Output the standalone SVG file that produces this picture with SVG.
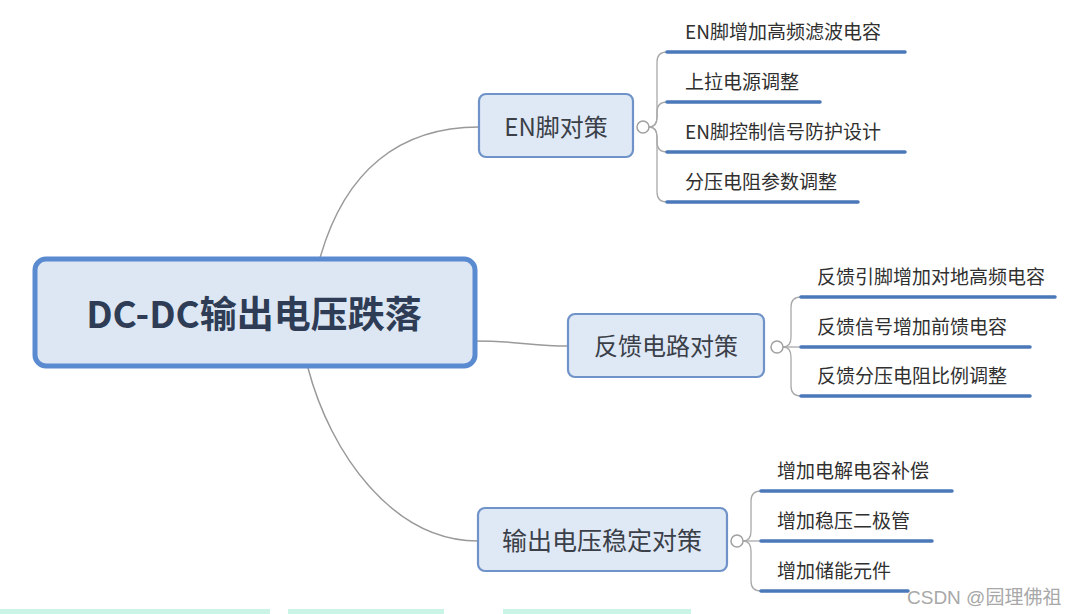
<svg xmlns="http://www.w3.org/2000/svg" width="1072" height="614" viewBox="0 0 1072 614">
<style>
  .bg{fill:#ffffff}
  .conn{fill:none;stroke:#9a9a9a;stroke-width:1.5}
  .sub{fill:none;stroke:#a8a8a8;stroke-width:1.3}
  .uline{stroke:#4a78b8;stroke-width:3.5;stroke-linecap:round}
  .node{fill:#dfe8f5;stroke:#6f93c8;stroke-width:2.2}
  .root{fill:#dde7f4;stroke:#5a8ad0;stroke-width:5}
  .ntext{font-family:"Noto Sans CJK SC","Noto Sans",sans-serif;font-size:24px;fill:#3a3f48;text-anchor:middle}
  .rtext{font-family:"Noto Sans CJK SC","Noto Sans",sans-serif;font-size:37px;font-weight:bold;fill:#2e3d55;text-anchor:middle}
  .leaf{font-family:"Noto Sans CJK SC","Noto Sans",sans-serif;font-size:19px;fill:#303030}
  .knob{fill:#ffffff;stroke:#a0a0a0;stroke-width:1.5}
  .wm{font-family:"Liberation Sans","Noto Sans CJK SC",sans-serif;font-size:19px;fill:#a8a8a8}
</style>
<rect class="bg" x="0" y="0" width="1072" height="614"/>

<g id="connectors">
  <path class="conn" d="M320,258 C345,170 400,127 479,127"/>
  <path class="conn" d="M474,341 C520,341 530,346 568,346"/>
  <path class="conn" d="M308,368 C330,452 392,541 478,541"/>
  <path class="sub" d="M649,127 Q657,127 657,117 L657,62 Q657,52 667,52"/>
  <path class="sub" d="M649,127 Q657,127 657,117 L657,112 Q657,102 667,102"/>
  <path class="sub" d="M649,127 Q657,127 657,137 L657,142 Q657,152 667,152"/>
  <path class="sub" d="M649,127 Q657,127 657,137 L657,192 Q657,202 667,202"/>
  <path class="sub" d="M783,347 Q791,347 791,337 L791,307 Q791,297 801,297"/>
  <path class="sub" d="M783,347 L801,347"/>
  <path class="sub" d="M783,347 Q791,347 791,357 L791,386 Q791,396 801,396"/>
  <path class="sub" d="M743,541 Q751,541 751,531 L751,501 Q751,491 761,491"/>
  <path class="sub" d="M743,541 L761,541"/>
  <path class="sub" d="M743,541 Q751,541 751,551 L751,581 Q751,591 761,591"/>
</g>

<g id="root">
  <rect class="root" x="35" y="259" width="440" height="107" rx="11"/>
  <text class="rtext" x="254" y="328">DC-DC输出电压跌落</text>
</g>

<g id="en">
  <rect class="node" x="479" y="94" width="154" height="63" rx="7"/>
  <text class="ntext" x="556" y="136">EN脚对策</text>
  <circle class="knob" cx="643" cy="127" r="6"/>
</g>
<g id="en-1"><line class="uline" x1="667" y1="52" x2="905" y2="52"/><text class="leaf" x="685" y="39">EN脚增加高频滤波电容</text></g>
<g id="en-2"><line class="uline" x1="667" y1="102" x2="820" y2="102"/><text class="leaf" x="685" y="89">上拉电源调整</text></g>
<g id="en-3"><line class="uline" x1="667" y1="152" x2="905" y2="152"/><text class="leaf" x="685" y="139">EN脚控制信号防护设计</text></g>
<g id="en-4"><line class="uline" x1="667" y1="202" x2="858" y2="202"/><text class="leaf" x="685" y="189">分压电阻参数调整</text></g>

<g id="fb">
  <rect class="node" x="568" y="314" width="196" height="63" rx="7"/>
  <text class="ntext" x="666" y="355">反馈电路对策</text>
  <circle class="knob" cx="777" cy="347" r="6"/>
</g>
<g id="fb-1"><line class="uline" x1="801" y1="297" x2="1055" y2="297"/><text class="leaf" x="817" y="284">反馈引脚增加对地高频电容</text></g>
<g id="fb-2"><line class="uline" x1="801" y1="347" x2="1030" y2="347"/><text class="leaf" x="817" y="334">反馈信号增加前馈电容</text></g>
<g id="fb-3"><line class="uline" x1="801" y1="396" x2="1030" y2="396"/><text class="leaf" x="817" y="383">反馈分压电阻比例调整</text></g>

<g id="out">
  <rect class="node" x="478" y="508" width="249" height="63" rx="7"/>
  <text class="ntext" x="602" y="550" style="font-size:25px">输出电压稳定对策</text>
  <circle class="knob" cx="737" cy="541" r="6"/>
</g>
<g id="out-1"><line class="uline" x1="761" y1="491" x2="952" y2="491"/><text class="leaf" x="777" y="478">增加电解电容补偿</text></g>
<g id="out-2"><line class="uline" x1="761" y1="541" x2="932" y2="541"/><text class="leaf" x="777" y="528">增加稳压二极管</text></g>
<g id="out-3"><line class="uline" x1="761" y1="591" x2="908" y2="591"/><text class="leaf" x="777" y="578">增加储能元件</text></g>

<rect x="0" y="609" width="270" height="5" fill="#c9f4e6"/>
<rect x="288" y="609" width="156" height="5" fill="#c9f4e6"/>
<rect x="503" y="609" width="188" height="5" fill="#c9f4e6"/>
<text class="wm" x="907" y="604">CSDN @园理佛祖</text>
</svg>
